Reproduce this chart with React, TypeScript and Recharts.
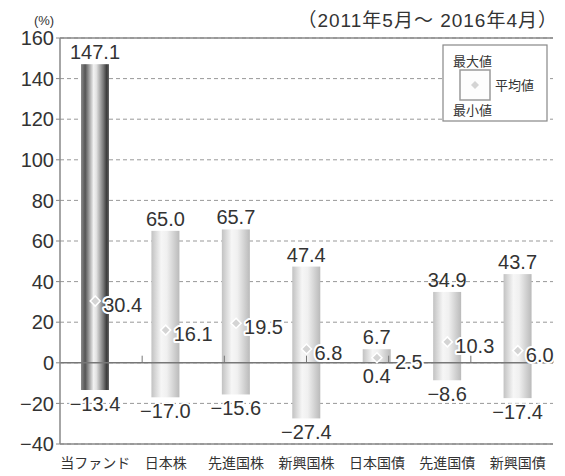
import React from "react";
import {
  ComposedChart,
  Bar,
  Line,
  XAxis,
  YAxis,
  CartesianGrid,
  ReferenceLine,
} from "recharts";

const categories = ["当ファンド", "日本株", "先進国株", "新興国株", "日本国債", "先進国債", "新興国債"];
const maxValues = [147.1, 65.0, 65.7, 47.4, 6.7, 34.9, 43.7];
const minValues = [-13.4, -17.0, -15.6, -27.4, 0.4, -8.6, -17.4];
const avgValues = [30.4, 16.1, 19.5, 6.8, 2.5, 10.3, 6.0];
const yTicks = [-40, -20, 0, 20, 40, 60, 80, 100, 120, 140, 160];
const boundaries = [1, 2, 3, 4, 5, 6];
const periodLabel = "（2011年5月～ 2016年4月）";
const unitLabel = "(%)";
const legendMax = "最大値";
const legendAvg = "平均値";
const legendMin = "最小値";

const data = categories.map((name, i) => ({
  name,
  range: [minValues[i], maxValues[i]],
  max: maxValues[i],
  min: minValues[i],
  avg: avgValues[i],
}));

const FONT = "'Liberation Sans', Arial, 'Noto Sans CJK JP', sans-serif";
const CJK = "'Noto Sans CJK JP', 'Liberation Sans', sans-serif";
const TEXT = "#333";

const fmt = (v: number) => (v < 0 ? "\u2212" + Math.abs(v).toFixed(1) : v.toFixed(1));
const fmtTick = (v: number) => (v < 0 ? "\u2212" + Math.abs(v) : String(v));

const BarShape = (props: any) => {
  const { x, y, width, height, payload } = props;
  const top = Math.min(y, y + height);
  const h = Math.abs(height);
  const fill = payload.name === categories[0] ? "url(#gDark)" : "url(#gLight)";
  const cx = x + width / 2;
  return (
    <g>
      <rect x={x} y={top} width={width} height={h} fill={fill} />
      <text x={cx} y={top - 5} textAnchor="middle" fontSize={20} fill={TEXT} fontFamily={FONT}>
        {fmt(payload.max)}
      </text>
      <text
        x={cx}
        y={top + h + 21}
        textAnchor="middle"
        fontSize={20}
        fill={TEXT}
        fontFamily={FONT}
        stroke="#fff"
        strokeWidth={3}
        paintOrder="stroke"
      >
        {fmt(payload.min)}
      </text>
    </g>
  );
};

const AvgDot = (props: any) => {
  const { cx, cy, payload } = props;
  if (cx == null || cy == null) return <g />;
  const s = 5;
  const dx = payload.max - payload.min < 10 ? 18 : 8;
  return (
    <g>
      <path
        d={`M${cx},${cy - s}L${cx + s},${cy}L${cx},${cy + s}L${cx - s},${cy}Z`}
        fill="#d4d4d4"
        stroke="#fff"
        strokeWidth={1.5}
      />
      <text
        x={cx + dx}
        y={cy + 11}
        fontSize={20}
        fill={TEXT}
        fontFamily={FONT}
        stroke="#fff"
        strokeWidth={4}
        strokeLinejoin="round"
        paintOrder="stroke"
      >
        {fmt(payload.avg)}
      </text>
    </g>
  );
};

export default function App() {
  return (
    <div style={{ position: "absolute", left: 0, top: 0, width: 565, height: 476, background: "#fff" }}>
      <svg width={0} height={0} style={{ position: "absolute" }}>
        <defs>
          <linearGradient id="gDark" x1="0" y1="0" x2="1" y2="0">
            <stop offset="0" stopColor="#8a8a8a" />
            <stop offset="0.15" stopColor="#555" />
            <stop offset="0.45" stopColor="#f2f2f2" />
            <stop offset="0.55" stopColor="#e2e2e2" />
            <stop offset="0.8" stopColor="#777" />
            <stop offset="0.92" stopColor="#3a3a3a" />
            <stop offset="1" stopColor="#666" />
          </linearGradient>
          <linearGradient id="gLight" x1="0" y1="0" x2="1" y2="0">
            <stop offset="0" stopColor="#c2c2c2" />
            <stop offset="0.35" stopColor="#f6f6f6" />
            <stop offset="0.55" stopColor="#f0f0f0" />
            <stop offset="1" stopColor="#bababa" />
          </linearGradient>
        </defs>
      </svg>
      <ComposedChart
        width={565}
        height={476}
        data={data}
        margin={{ top: 38, right: 12, bottom: 0, left: 0 }}
        barCategoryGap={0}
      >
        <CartesianGrid horizontal vertical={false} stroke="#999" strokeDasharray="4 3" />
        <XAxis
          dataKey="name"
          tickLine={false}
          tickSize={12}
          height={32}
          axisLine={{ stroke: "#888", strokeWidth: 1.5 }}
          tick={{ fontSize: 14, fill: TEXT, fontFamily: CJK }}
          interval={0}
        />
        <XAxis xAxisId="z" type="number" domain={[0, 7]} hide />
        <YAxis
          domain={[-40, 160]}
          ticks={yTicks}
          width={60}
          tickSize={4}
          tickFormatter={fmtTick}
          axisLine={{ stroke: "#888", strokeWidth: 1.5 }}
          tickLine={{ stroke: "#888" }}
          tick={{ fontSize: 20, fill: TEXT, fontFamily: FONT }}
          allowDataOverflow
        />
        <ReferenceLine y={160} stroke="#888" strokeWidth={1.5} />
        <ReferenceLine xAxisId="z" x={7} stroke="#888" strokeWidth={1.5} />
        <Bar dataKey="range" barSize={28} shape={BarShape} isAnimationActive={false} />
        <ReferenceLine y={0} stroke="#777" strokeWidth={1.5} />
        {boundaries.map((b) => (
          <ReferenceLine
            key={b}
            xAxisId="z"
            segment={[
              { x: b, y: 0 },
              { x: b, y: 3.5 },
            ]}
            stroke="#777"
          />
        ))}
        <Line
          dataKey="avg"
          stroke="none"
          dot={AvgDot}
          activeDot={false}
          isAnimationActive={false}
        />
      </ComposedChart>
      <svg
        width={565}
        height={476}
        style={{ position: "absolute", left: 0, top: 0, pointerEvents: "none" }}
      >
        <text x={44} y={25} textAnchor="middle" fontSize={13} fill={TEXT} fontFamily={FONT}>
          {unitLabel}
        </text>
        <text x={558} y={27} textAnchor="end" fontSize={19} letterSpacing={1} fill={TEXT} fontFamily={FONT}>
          {periodLabel}
        </text>
        <rect x={443} y={45} width={104} height={76} fill="#fff" stroke="#888" strokeWidth={1.2} />
        <rect x={460} y={70} width={30} height={30} fill="#fdfdfd" stroke="#999" strokeWidth={1.5} />
        <path d="M475,81L479,85L475,89L471,85Z" fill="#d4d4d4" />
        <text x={453} y={66} fontSize={13} fill={TEXT} fontFamily={CJK}>
          {legendMax}
        </text>
        <text x={495} y={90} fontSize={13} fill={TEXT} fontFamily={CJK}>
          {legendAvg}
        </text>
        <text x={453} y={115} fontSize={13} fill={TEXT} fontFamily={CJK}>
          {legendMin}
        </text>
      </svg>
    </div>
  );
}
